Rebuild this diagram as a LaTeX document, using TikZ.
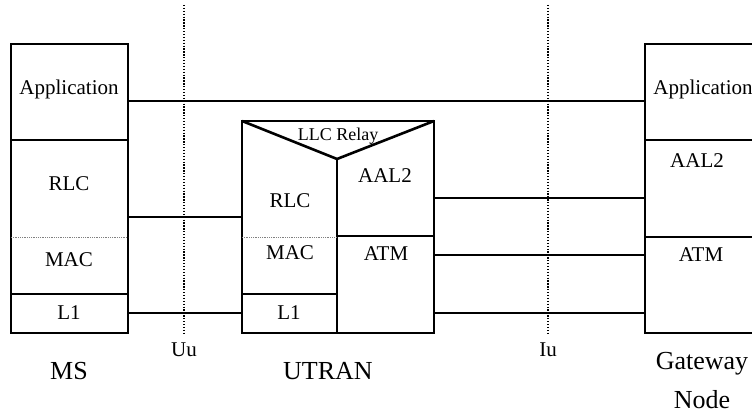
\documentclass[tikz,border=0pt]{standalone}
\usepackage{fontspec}
\setmainfont{Liberation Serif}
\begin{document}
\begin{tikzpicture}[x=1pt,y=-1pt,
  layer/.style={draw, line width=2.6pt, inner sep=0pt, outer sep=0pt, anchor=north west},
  conn/.style={line width=1.8pt},
  divline/.style={line width=2pt},
  iface/.style={line width=1.3pt, dash pattern=on 1.3pt off 1.6pt},
  sublayer/.style={line width=0.8pt, gray, dash pattern=on 0.8pt off 1pt},
  lbl/.style={anchor=base, inner sep=0pt, font=\fontsize{21}{24}\selectfont},
  small/.style={anchor=base, inner sep=0pt, font=\fontsize{18}{20}\selectfont},
  big/.style={anchor=base, inner sep=0pt, font=\fontsize{26}{30}\selectfont}]
\useasboundingbox (0,0) rectangle (752,419);
\clip (0,0) rectangle (752,419);

% coordinates for connector levels
\coordinate (yapp) at (0,101);
\coordinate (yrlc) at (0,217);
\coordinate (yl1) at (0,313);
\coordinate (yaal) at (0,198);
\coordinate (yatm) at (0,255);
\coordinate (ysub) at (0,237);

% MS stack
\node[layer, minimum width=117pt, minimum height=96pt] (msapp) at (11,44) {};
\node[layer, minimum width=117pt, minimum height=154pt] (msrlc) at (11,140) {};
\node[layer, minimum width=117pt, minimum height=39pt] (msl1) at (11,294) {};
\draw[sublayer] (msrlc.west |- ysub) -- (msrlc.east |- ysub);

% UTRAN stack
\node[layer, minimum width=192pt, minimum height=212pt] (utran) at (242,121) {};
\node[layer, minimum width=95pt, minimum height=39pt] (utl1) at (242,294) {};
\node[layer, minimum width=97pt, minimum height=97pt] (utatm) at (337,236) {};
\coordinate (apex) at (337,159);
\draw[line width=2.6pt, line join=miter] (utran.north west) -- (apex) -- (utran.north east);
\draw[divline] (apex) -- (apex |- utran.south);
\draw[sublayer] (utran.west |- ysub) -- (apex |- ysub);

% Gateway stack
\node[layer, minimum width=116pt, minimum height=96pt] (gwapp) at (645,44) {};
\node[layer, minimum width=116pt, minimum height=97pt] (gwaal) at (645,140) {};
\node[layer, minimum width=116pt, minimum height=96pt] (gwatm) at (645,237) {};

% interfaces
\coordinate (uutop) at (184,5);
\coordinate (uubot) at (184,333);
\coordinate (iutop) at (548,5);
\coordinate (iubot) at (548,333);
\draw[iface] (uutop) -- (uubot);
\draw[iface] (iutop) -- (iubot);

% connectors
\draw[conn] (msapp.east |- yapp) -- (gwapp.west |- yapp);
\draw[conn] (msrlc.east |- yrlc) -- (utran.west |- yrlc);
\draw[conn] (msl1.east |- yl1) -- (utran.west |- yl1);
\draw[conn] (utran.east |- yaal) -- (gwaal.west |- yaal);
\draw[conn] (utran.east |- yatm) -- (gwatm.west |- yatm);
\draw[conn] (utran.east |- yl1) -- (gwatm.west |- yl1);

% labels MS
\node[lbl] (tmsapp) at (69,95) {Application};
\node[lbl] (tmsrlc) at (69,191) {RLC};
\node[lbl] (tmsmac) at (69,267) {MAC};
\node[lbl] (tmsl1) at (69,320) {L1};
\node[big] (tms) at (69,380) {MS};

% labels UTRAN
\node[small] (tllc) at (338,141) {LLC Relay};
\node[lbl] (turlc) at (290,208) {RLC};
\node[lbl] (tumac) at (290,260) {MAC};
\node[lbl] (tul1) at (289,320) {L1};
\node[lbl] (tuaal) at (385,183) {AAL2};
\node[lbl] (tuatm) at (386,261) {ATM};
\node[big] (tutran) at (328,380) {UTRAN};

% interface labels
\node[lbl] (tuu) at (184,356) {Uu};
\node[lbl] (tiu) at (548,356) {Iu};

% labels Gateway
\node[lbl] (tgwapp) at (703,95) {Application};
\node[lbl] (tgwaal) at (697,168) {AAL2};
\node[lbl] (tgwatm) at (701,262) {ATM};
\node[big] (tgw) at (702,370) {Gateway};
\node[big] (tnode) at (702,408) {Node};
\end{tikzpicture}
\end{document}
